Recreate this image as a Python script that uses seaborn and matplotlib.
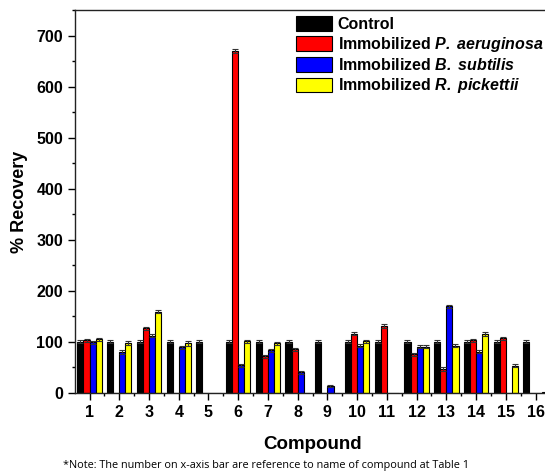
import numpy as np
import pandas as pd
import matplotlib
matplotlib.use("Agg")
import matplotlib.pyplot as plt
from matplotlib.ticker import MultipleLocator, FixedLocator
import seaborn as sns

compounds = [str(i) for i in range(1, 17)]
series = ["Control", "Immobilized P. aeruginosa", "Immobilized B. subtilis", "Immobilized R. pickettii"]
legend_labels = ["Control",
                 r"Immobilized $\mathbfit{P.\;aeruginosa}$",
                 r"Immobilized $\mathbfit{B.\;subtilis}$",
                 r"Immobilized $\mathbfit{R.\;pickettii}$"]
colors = ["#000000", "#FF0000", "#0000FF", "#FFFF00"]

control     = [100, 100, 100, 100, 100, 100, 100, 100, 100, 100, 100, 100, 100, 100, 100, 100]
aeruginosa  = [103, 0, 127, 0, 0, 670, 72, 86, 0, 116, 131, 76, 47, 103, 107, 0]
subtilis    = [99, 80, 112, 90, 0, 54, 84, 41, 13, 93, 0, 91, 170, 81, 0, 0]
pickettii   = [105, 98, 159, 97, 0, 101, 97, 0, 0, 101, 0, 91, 93, 116, 53, 1]

err_control    = [3, 3, 3, 3, 3, 3, 3, 3, 3, 3, 3, 3, 3, 3, 3, 3]
err_aeruginosa = [3, 0, 3, 0, 0, 4, 3, 3, 0, 3, 4, 3, 3, 3, 3, 0]
err_subtilis   = [3, 4, 3, 3, 0, 3, 3, 3, 2, 3, 0, 3, 3, 3, 0, 0]
err_pickettii  = [3, 4, 3, 4, 0, 3, 3, 0, 0, 3, 0, 3, 3, 4, 3, 0]

values = [control, aeruginosa, subtilis, pickettii]
errors = [err_control, err_aeruginosa, err_subtilis, err_pickettii]

rows = []
for s, vals, errs in zip(series, values, errors):
    for c, v, e in zip(compounds, vals, errs):
        rows.append({"Compound": c, "Series": s, "Value": v, "Err": e})
df = pd.DataFrame(rows)

sns.set_style("ticks")
plt.rcParams["font.family"] = ["Liberation Sans", "DejaVu Sans"]
plt.rcParams["mathtext.fontset"] = "custom"
plt.rcParams["mathtext.rm"] = "Liberation Sans:bold"
plt.rcParams["mathtext.bfit"] = "Liberation Sans:italic:bold"
plt.rcParams["mathtext.it"] = "Liberation Sans:italic:bold"
plt.rcParams["text.color"] = "black"
plt.rcParams["axes.labelcolor"] = "black"
plt.rcParams["xtick.color"] = "black"
plt.rcParams["ytick.color"] = "black"

fig = plt.figure(figsize=(5.45, 4.73), dpi=100)
ax = fig.add_axes([75/545, 80/473, 475.4/545, 383/473])

sns.barplot(data=df, x="Compound", y="Value", hue="Series", order=compounds,
            hue_order=series, palette=colors, saturation=1, edgecolor="black", linewidth=0.8,
            width=0.82, errorbar=None, ax=ax, legend=True)

# error bars on top of each bar
bars = [p for p in ax.patches if hasattr(p, "get_height")][:len(df)]
for p, (_, r) in zip(bars, df.iterrows()):
    if r["Value"] > 0 and r["Err"] > 0:
        ax.errorbar(p.get_x() + p.get_width() / 2, p.get_height(), yerr=r["Err"],
                    fmt="none", ecolor="#333333", elinewidth=0.8, capsize=2.5, capthick=0.8)

ax.set_xlim(-0.49, 15.5)
ax.set_ylim(0, 750)
ax.yaxis.set_major_locator(MultipleLocator(100))
ax.yaxis.set_minor_locator(MultipleLocator(50))
ax.xaxis.set_minor_locator(FixedLocator(np.arange(0.5, 15.6, 1)))
ax.tick_params(axis="both", which="major", length=5, width=1.0, labelsize=11.5, direction="out",
               colors="black")
ax.tick_params(axis="both", which="minor", length=2.5, width=1.0, direction="out", colors="black")
for lab in ax.get_xticklabels() + ax.get_yticklabels():
    lab.set_fontweight("bold")
for sp in ax.spines.values():
    sp.set_visible(True)
    sp.set_linewidth(1.0)
    sp.set_color("#222222")

ax.set_xlabel("Compound", fontsize=13.5, fontweight="bold", labelpad=12, color="black")
ax.set_ylabel("% Recovery", fontsize=13, fontweight="bold", labelpad=6, color="black")

handles, _ = ax.get_legend_handles_labels()
leg = ax.legend(handles, legend_labels, loc="upper left",
                bbox_to_anchor=(296/545, 1 - 16/473), bbox_transform=fig.transFigure,
                frameon=False, prop={"weight": "bold", "size": 11.5},
                handlelength=2.25, handleheight=1.05, handletextpad=0.35,
                labelspacing=0.2, borderpad=0, borderaxespad=0)
for t in leg.get_texts():
    t.set_color("black")

fig.text(266/545, 1 - 465/473, "*Note: The number on x-axis bar are reference to name of compound at Table 1",
         ha="center", va="center", fontsize=7.8, color="black", family=["Open Sans", "DejaVu Sans"])

fig.savefig("out.png", dpi=100)
